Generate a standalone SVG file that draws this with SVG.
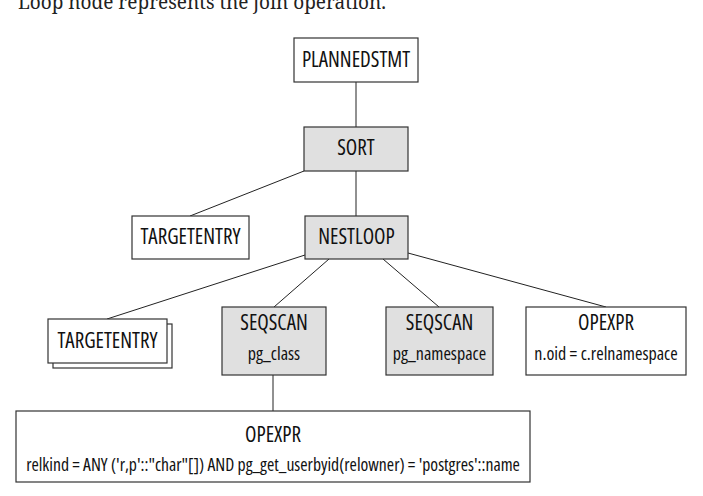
<svg xmlns="http://www.w3.org/2000/svg" width="703" height="496" viewBox="0 0 703 496">
<style>
.box{fill:#fff;stroke:#333;stroke-width:1.2}
.gray{fill:#e0e0e0}
.t{font-family:"Open Sans","Roboto Condensed","Liberation Sans",sans-serif;font-stretch:condensed;font-size:21px;fill:#111;text-anchor:middle}
.s{font-size:18px}
.xs{font-size:17.7px}
.edge{stroke:#222;stroke-width:1;fill:none}
.cap{font-family:"Noto Serif","Liberation Serif",serif;font-size:19px;fill:#222}
</style>
<rect width="703" height="496" fill="#fff"/>
<text class="cap" x="18" y="8.5">Loop node represents the join operation.</text>
<g id="connectors">
<line class="edge" x1="356" y1="82" x2="356" y2="127"/>
<line class="edge" x1="304" y1="171" x2="190" y2="216"/>
<line class="edge" x1="356" y1="171" x2="356" y2="216"/>
<line class="edge" x1="305" y1="255" x2="107" y2="319"/>
<line class="edge" x1="329" y1="259" x2="274" y2="307"/>
<line class="edge" x1="383" y1="259" x2="439" y2="307"/>
<line class="edge" x1="408" y1="253" x2="606" y2="307"/>
<line class="edge" x1="273" y1="375" x2="273" y2="411"/>
</g>
<g id="plannedstmt">
<rect class="box" x="294" y="38" width="124" height="44"/>
<text class="t" x="356" y="67">PLANNEDSTMT</text>
</g>
<g id="sort">
<rect class="box gray" x="304" y="127" width="104" height="44"/>
<text class="t" x="356" y="155">SORT</text>
</g>
<g id="targetentry1">
<rect class="box" x="132" y="216" width="117" height="43"/>
<text class="t" x="190.5" y="244">TARGETENTRY</text>
</g>
<g id="nestloop">
<rect class="box gray" x="305" y="216" width="103" height="43"/>
<text class="t" x="356.5" y="244">NESTLOOP</text>
</g>
<g id="targetentry2">
<rect class="box" x="53" y="324" width="119" height="44"/>
<rect class="box" x="48" y="319" width="119" height="44"/>
<text class="t" x="107.5" y="348">TARGETENTRY</text>
</g>
<g id="seqscan1">
<rect class="box gray" x="222" y="307" width="104" height="68"/>
<text class="t" x="274" y="330">SEQSCAN</text>
<text class="t s" x="274" y="360">pg_class</text>
</g>
<g id="seqscan2">
<rect class="box gray" x="386" y="307" width="107" height="68"/>
<text class="t" x="439.5" y="330">SEQSCAN</text>
<text class="t s" x="439.5" y="360">pg_namespace</text>
</g>
<g id="opexpr1">
<rect class="box" x="526" y="307" width="160" height="68"/>
<text class="t" x="606" y="330">OPEXPR</text>
<text class="t s" x="606" y="360">n.oid = c.relnamespace</text>
</g>
<g id="opexpr2">
<rect class="box" x="16" y="411" width="514" height="71"/>
<text class="t" x="273" y="442">OPEXPR</text>
<text class="t xs" x="273" y="471">relkind = ANY ('r,p'::"char"[]) AND pg_get_userbyid(relowner) = 'postgres'::name</text>
</g>
</svg>
